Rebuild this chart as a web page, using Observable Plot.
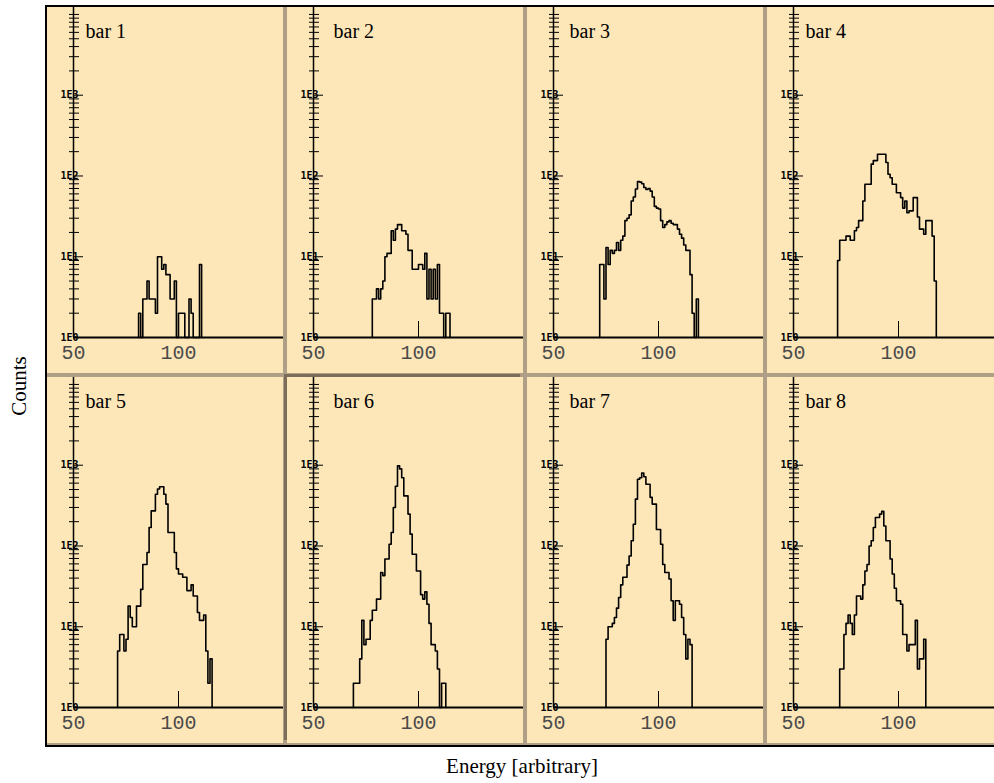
<!DOCTYPE html>
<html><head><meta charset="utf-8">
<script src="https://cdn.jsdelivr.net/npm/d3@7"></script>
<script src="https://cdn.jsdelivr.net/npm/@observablehq/plot@0.6"></script>
<style>
html,body{margin:0;padding:0;background:#fff;overflow:hidden;width:994px;height:783px;}
#wrap{position:relative;width:994px;height:783px;overflow:hidden;}
#frame{position:absolute;left:45px;top:5px;width:962px;height:738px;border-left:2px solid #000;border-top:2px solid #000;border-bottom:2px solid #000;background:#ae9f86;}
.panel{position:absolute;width:236px;height:366px;background:#fde6b7;}
.panel svg{display:block;}
.panel.sel{box-shadow:-3px -3px 0 #7c6d5a;}
#ylabel{position:absolute;left:19px;top:386px;transform:translate(-50%,-50%) rotate(-90deg);font:21px "Liberation Serif";line-height:1;white-space:nowrap;color:#000;}
#xlabel{position:absolute;left:522px;top:756px;transform:translateX(-50%);font:21px "Liberation Serif";line-height:1;white-space:nowrap;color:#000;}
</style>
</head><body>
<div id="wrap">
  <div id="frame"></div>
  <div id="ylabel">Counts</div>
  <div id="xlabel">Energy [arbitrary]</div>
</div>
<script>
// ---- data ----
const titles = ["bar 1","bar 2","bar 3","bar 4","bar 5","bar 6","bar 7","bar 8"];
const binStarts = [81, 78, 72, 71, 71, 69, 75, 72];
const bar1 = [2,1,3,3,5,3,3,3,2,10,10,7,8,6,6,3,3,5,1,2,2,2,1,1,3,2,1,1,1,8];
const bar2 = [3,3,4,3,4,5,10,11,11,21,16,22,25,25,21,21,19,12,12,7,7,7,8,8,7,11,3,7,3,7,3,8,2,2,1,2,2];
const bar3 = [8,8,3,13,8,12,11,12,15,12,16,18,28,30,33,49,55,69,85,84,80,72,68,70,65,55,42,40,39,28,23,25,27,28,26,25,25,22,19,17,14,12,12,6,2,1,3];
const bar4 = [9,16,16,16,18,18,16,16,21,23,28,28,49,79,79,79,140,155,155,186,186,186,186,147,105,95,79,79,62,62,54,40,49,35,37,37,54,54,31,22,22,19,28,28,28,18,5];
const bar5 = [5,8,8,5,7,18,13,10,10,18,18,29,59,59,83,169,272,272,437,508,540,540,437,330,147,147,147,83,52,45,45,41,41,28,28,33,24,24,15,12,12,14,5,2,4];
const bar6 = [2,2,2,4,12,6,7,7,12,16,16,22,22,47,43,69,69,105,147,300,550,980,900,700,417,417,248,140,79,79,49,49,25,22,27,19,11,6,6,5,3,1,2,2];
const bar7 = [7,10,10,11,13,17,23,33,41,41,58,75,116,186,380,670,700,800,720,580,580,400,330,330,160,160,105,59,47,47,39,21,12,21,21,19,13,8,4,7,6];
const bar8 = [3,3,8,11,14,11,8,14,24,24,22,33,49,59,100,116,169,225,225,248,268,177,116,116,69,45,30,21,21,19,8,8,5,6,6,6,12,3,4,4,7];
const countsList = [bar1,bar2,bar3,bar4,bar5,bar6,bar7,bar8];
const majorTicks = [1, 10, 100, 1000];
const mantissas = [2,3,4,5,6,7,8,9];
const xLabelTicks = [50, 100];
const xMarkTicks = [100];

// ---- layout / style ----
const PW = 236, PH = 366, GAP = 4;
const AXIS_X = 50, XMAX = 150, PXPERUNIT = 2.1, AXIS_INSET = 26;
const titleDx = [38, 46, 42, 38];
const minorTicks = majorTicks.flatMap(d => mantissas.map(m => m * d)).concat([10000]);

const frame = document.getElementById("frame");
countsList.forEach((counts, i) => {
  const start = binStarts[i];
  const pts = [{x: start, y: 1}]
    .concat(counts.map((c, k) => ({x: start + k, y: Math.max(1, c)})))
    .concat([{x: start + counts.length, y: 1}]);
  const chart = Plot.plot({
    width: PW, height: PH,
    marginTop: 0, marginRight: 0, marginBottom: 36, marginLeft: 0,
    x: {domain: [AXIS_X - AXIS_INSET / PXPERUNIT, XMAX], axis: null},
    y: {type: "log", domain: [1, 12190], axis: null},
    style: {background: "transparent", overflow: "visible"},
    marks: [
      Plot.ruleX([AXIS_X], {stroke: "#000", strokeWidth: 1.5}),
      Plot.ruleY(minorTicks, {y: d => d, x1: () => AXIS_X, x2: () => AXIS_X, insetLeft: -4, insetRight: -6, stroke: "#000", strokeWidth: 1}),
      Plot.ruleY(majorTicks, {y: d => d, x1: () => AXIS_X, x2: () => AXIS_X, insetRight: -10, stroke: "#000", strokeWidth: 1}),
      Plot.text(majorTicks, {x: () => AXIS_X, y: d => d, text: d => "1E" + Math.round(Math.log10(d)),
        textAnchor: "end", dx: 5, fontSize: 10, fontWeight: "bold", fontFamily: "DejaVu Sans Mono", fill: "#000", ariaLabel: "ylab"}),
      Plot.ruleX(xMarkTicks, {insetTop: 314, stroke: "#000", strokeWidth: 1}),
      Plot.line(pts, {x: "x", y: "y", curve: "step-after", stroke: "#000", strokeWidth: 1.6}),
      Plot.ruleY([1], {x1: () => AXIS_X, x2: () => XMAX, stroke: "#000", strokeWidth: 2}),
      Plot.text(xLabelTicks, {x: d => d, y: () => 1, text: d => String(d), lineAnchor: "top", dy: 7,
        fontSize: 20, fontFamily: "Liberation Mono", fill: "#4a4a4a"}),
      Plot.text([titles[i]], {frameAnchor: "top-left", text: d => d, dx: titleDx[i % 4], dy: 16.5,
        textAnchor: "start", fontSize: 20, fontFamily: "Liberation Serif", fill: "#000"})
    ]
  });
  d3.select(chart).selectAll('g[aria-label="ylab"] text').style("letter-spacing", "2.5px");
  const div = document.createElement("div");
  div.className = "panel" + (i === 5 ? " sel" : "");
  div.style.left = ((i % 4) * (PW + GAP)) + "px";
  div.style.top = (Math.floor(i / 4) * (PH + GAP)) + "px";
  div.appendChild(chart);
  frame.appendChild(div);
});
</script>
</body></html>
